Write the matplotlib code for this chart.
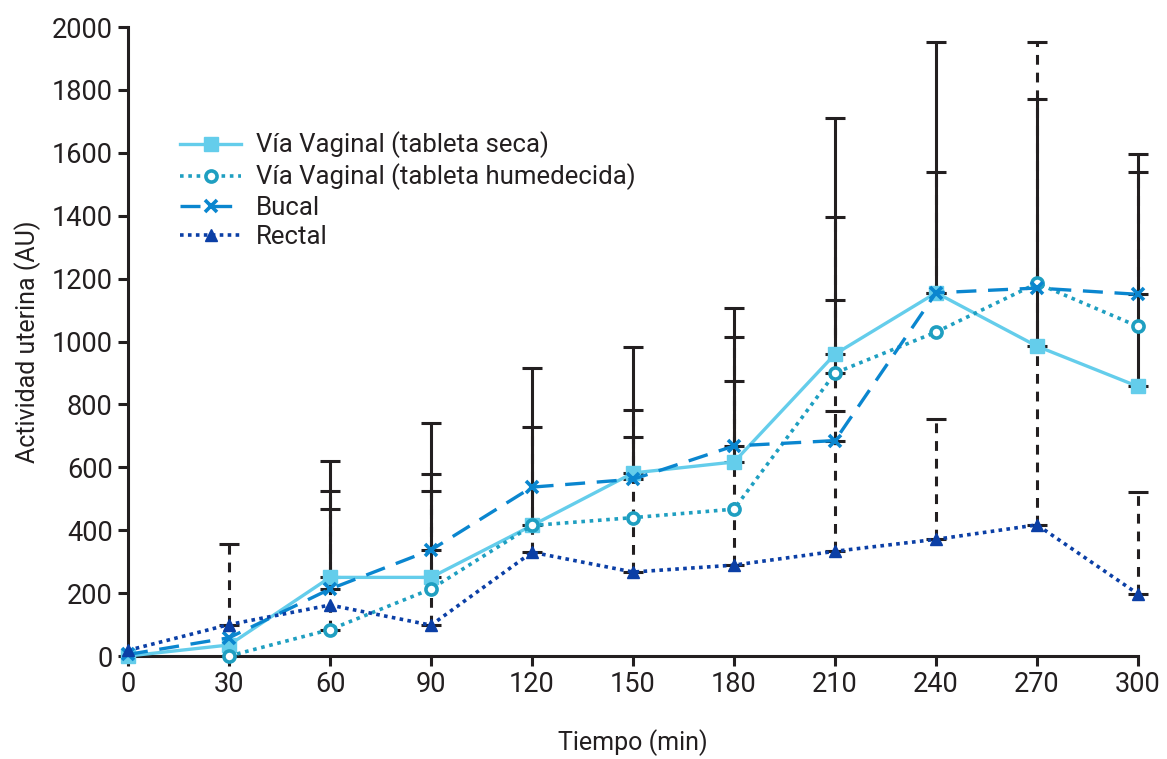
import numpy as np
import matplotlib
matplotlib.use("Agg")
import matplotlib.pyplot as plt

plt.rcParams['font.family'] = ['Roboto', 'DejaVu Sans']

# Data
tiempo = [0, 30, 60, 90, 120, 150, 180, 210, 240, 270, 300]

seca = [0, 35, 250, 250, 415, 582, 617, 960, 1155, 985, 857]
humedecida = [np.nan, 0, 84, 213, 415, 440, 467, 900, 1030, 1185, 1048]
bucal = [5, 58, 213, 337, 537, 562, 668, 685, 1155, 1170, 1150]
rectal = [18, 100, 162, 98, 330, 267, 289, 333, 371, 417, 197]

# upper error (SD), nan = not shown
seca_sd = [np.nan, np.nan, 370, 492, 500, 400, 490, 750, 797, 786, 739]
humedecida_sd = [np.nan, np.nan, 441, np.nan, np.nan, np.nan, np.nan, 497, np.nan, np.nan, np.nan]
bucal_sd = [np.nan, np.nan, 255, 243, np.nan, 220, 346, 448, 384, np.nan, 389]
rectal_sd = [np.nan, 255, np.nan, 427, 397, 430, 585, 446, 383, 1535, 324]

labels = ["Vía Vaginal (tableta seca)", "Vía Vaginal (tableta humedecida)", "Bucal", "Rectal"]

c_seca = "#64cdeb"
c_hum = "#1f9fc1"
c_buc = "#0a86cf"
c_rec = "#0b3fa6"
c_err = "#231f20"

fig = plt.figure(figsize=(11.67, 7.59), dpi=100)
ax = fig.add_axes([0.1097, 0.1357, 0.8655, 0.8287])

t = np.array(tiempo, dtype=float)


def upper_bars(mean, sd, dashed, z):
    mean = np.array(mean, dtype=float)
    sd = np.array(sd, dtype=float)
    ok = ~np.isnan(sd)
    yerr = [np.zeros(ok.sum()), sd[ok]]
    _, caps, bars = ax.errorbar(t[ok], mean[ok], yerr=yerr, fmt='none',
                                ecolor=c_err, elinewidth=2.2, capsize=7,
                                capthick=2.2, zorder=z, clip_on=False)
    for c in caps:
        c.set_clip_on(False)
    bars[0].set_clip_on(False)
    if dashed:
        bars[0].set_linestyle((0, (3.2, 2.6)))


upper_bars(humedecida, humedecida_sd, True, 2)
upper_bars(bucal, bucal_sd, True, 2)
upper_bars(rectal, rectal_sd, True, 2)
upper_bars(seca, seca_sd, False, 3)

ax.plot(tiempo, seca, color=c_seca, lw=2.4, marker='s', ms=10,
        mfc=c_seca, mec=c_seca, label=labels[0], zorder=5, clip_on=False)
ax.plot(tiempo, humedecida, color=c_hum, lw=2.6, ls=(0, (1, 1.3)),
        marker='o', ms=8, mfc='white', mec=c_hum, mew=2.6,
        label=labels[1], zorder=5, clip_on=False)
ax.plot(tiempo, bucal, color=c_buc, lw=2.4, ls=(0, (6, 3.5)),
        marker='x', ms=8, mec=c_buc, mew=2.6, label=labels[2], zorder=5,
        clip_on=False)
ax.plot(tiempo, rectal, color=c_rec, lw=2.6, ls=(0, (1, 1.2)),
        marker='^', ms=9, mfc=c_rec, mec=c_rec, label=labels[3], zorder=5,
        clip_on=False)

ax.set_xlim(0, 300)
ax.set_ylim(0, 2000)
ax.set_xticks(range(0, 301, 30))
ax.set_yticks(range(0, 2001, 200))

for side in ['top', 'right']:
    ax.spines[side].set_visible(False)
for side in ['left', 'bottom']:
    ax.spines[side].set_linewidth(2.2)
    ax.spines[side].set_color(c_err)
    ax.spines[side].set_capstyle('projecting')

ax.tick_params(axis='both', direction='out', length=7, width=2.2,
               color=c_err, labelsize=19.5, labelcolor='#231f20', pad=4)

ax.set_xlabel("Tiempo (min)", fontsize=18, color='#231f20', labelpad=22)
ax.set_ylabel("Actividad uterina (AU)", fontsize=18, color='#231f20', labelpad=8)

leg = ax.legend(loc='upper left', bbox_to_anchor=(0.041, 0.85), frameon=False,
                fontsize=18.5, handlelength=2.4, handletextpad=0.55,
                labelspacing=0.2, numpoints=1, borderaxespad=0)
for txt in leg.get_texts():
    txt.set_color('#231f20')

fig.savefig("out.png", dpi=100)
